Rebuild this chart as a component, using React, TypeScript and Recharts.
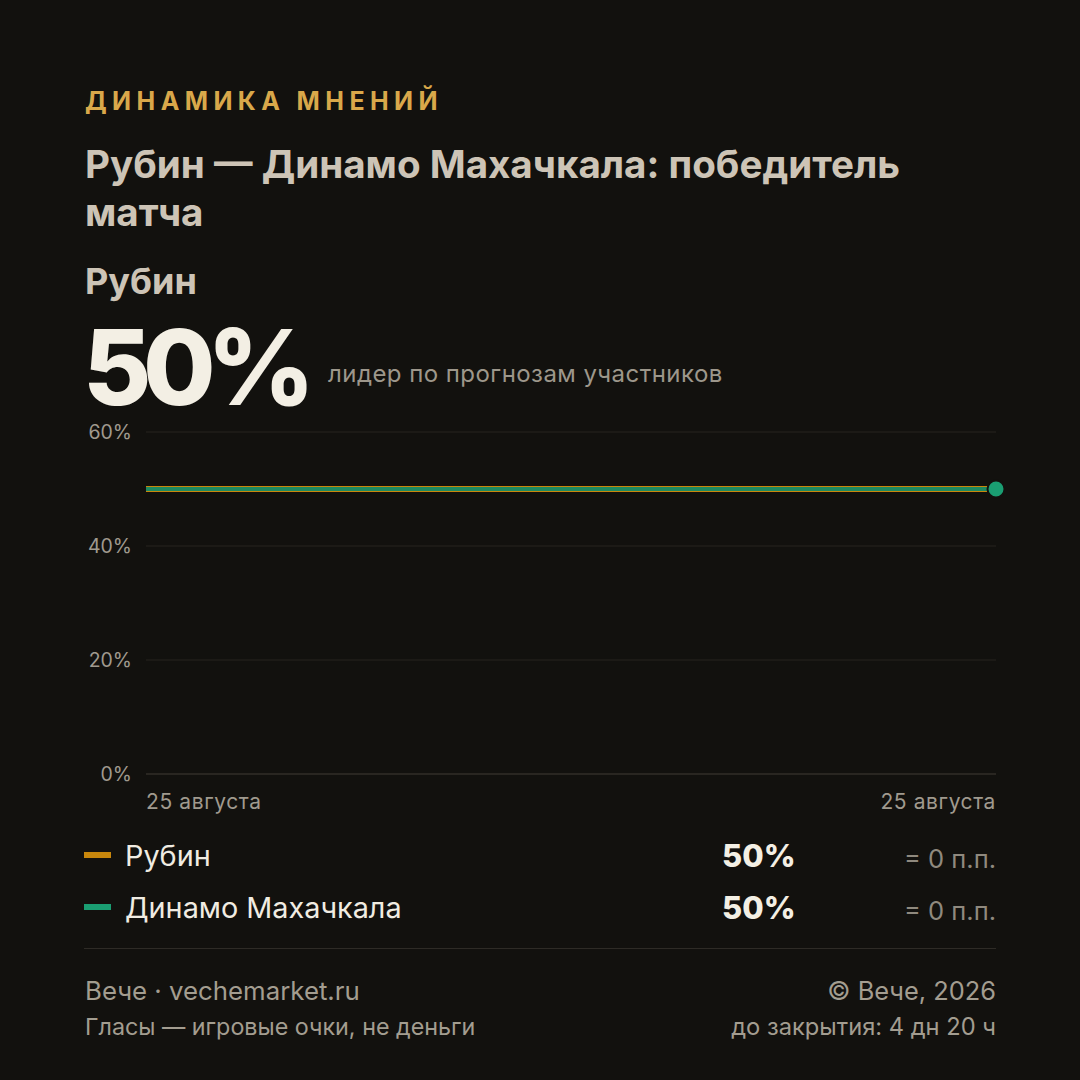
import React from "react";
import { CartesianGrid, Line, LineChart, XAxis, YAxis } from "recharts";

const dates = ["25 августа", "25 августа"];
const rubin = [50, 50];
const dinamo = [50, 50];
const yTicks = [0, 20, 40, 60];

const teams = [
  { name: "Рубин", color: "#c8870c", value: "50%", delta: "= 0 п.п." },
  { name: "Динамо Махачкала", color: "#1a9e72", value: "50%", delta: "= 0 п.п." },
];

const data = dates.map((d, i) => ({ idx: i, date: d, rubin: rubin[i], dinamo: dinamo[i] }));

const BG = "#12110e";
const FONT = "Inter, 'Noto Sans', sans-serif";

function XTick(props: any) {
  const { x, y, payload, index } = props;
  const last = index === dates.length - 1;
  return (
    <text
      x={x}
      y={y}
      dy={27}
      textAnchor={last ? "end" : "start"}
      fill="#a09a8e"
      fontSize={21}
      letterSpacing={0.6}
      fontFamily={FONT}
    >
      {dates[payload.value]}
    </text>
  );
}

function EndDot(props: any) {
  const { cx, cy, index } = props;
  if (index !== dates.length - 1) return <g key={index} />;
  return <circle key={index} cx={cx} cy={cy} r={8.5} fill="#1a9e72" stroke={BG} strokeWidth={2} />;
}

export default function App() {
  return (
    <div
      style={{
        position: "absolute",
        left: 0,
        top: 0,
        width: 1080,
        height: 1080,
        background: BG,
        fontFamily: FONT,
        overflow: "hidden",
      }}
    >
      <div
        style={{
          position: "absolute",
          left: 85,
          top: 86,
          fontSize: 25,
          fontWeight: 700,
          letterSpacing: 5.4,
          color: "#d9a84a",
        }}
      >
        ДИНАМИКА МНЕНИЙ
      </div>
      <div
        style={{
          position: "absolute",
          left: 85,
          top: 140,
          width: 940,
          fontSize: 38.6,
          fontWeight: 700,
          lineHeight: "48px",
          color: "#cdc4b6",
        }}
      >
        Рубин — Динамо Махачкала: победитель
        <br />
        матча
      </div>
      <div
        style={{ position: "absolute", left: 85, top: 259, fontSize: 36, fontWeight: 700, color: "#cdc4b6" }}
      >
        Рубин
      </div>
      <div
        style={{
          position: "absolute",
          left: 83,
          top: 322,
          fontSize: 105,
          fontWeight: 800,
          letterSpacing: -8.5,
          color: "#f3efe4",
          lineHeight: "90px",
        }}
      >
        50%
      </div>
      <div style={{ position: "absolute", left: 328, top: 359, fontSize: 24, letterSpacing: 0.45, color: "#9d978b" }}>
        лидер по прогнозам участников
      </div>

      <div style={{ position: "absolute", left: 84, top: 410 }}>
        <LineChart width={920} height={404} data={data} margin={{ top: 22, right: 8, left: 0, bottom: 0 }}>
          <CartesianGrid vertical={false} stroke="#27251f" />
          <XAxis
            dataKey="idx"
            tick={<XTick />}
            tickLine={false}
            axisLine={{ stroke: "#36332c" }}
            height={40}
            interval={0}
          />
          <YAxis
            domain={[0, 60]}
            ticks={yTicks}
            width={62}
            tickFormatter={(v: number) => `${v}%`}
            tickLine={false}
            axisLine={false}
            tickSize={0}
            tickMargin={14}
            tick={{ fill: "#a09a8e", fontSize: 19.5, fontFamily: FONT }}
          />
          <Line dataKey="rubin" stroke="#c8870c" strokeWidth={6} dot={false} isAnimationActive={false} />
          <Line dataKey="dinamo" stroke="#1d8a60" strokeWidth={4} dot={<EndDot />} activeDot={false} isAnimationActive={false} />
        </LineChart>
      </div>

      {teams.map((t, i) => (
        <div key={t.name} style={{ position: "absolute", left: 84, top: 837 + i * 52, width: 912, height: 40 }}>
          <div style={{ position: "absolute", left: 0, top: 15, width: 27, height: 6, background: t.color }} />
          <div style={{ position: "absolute", left: 41, top: 1, fontSize: 28.8, color: "#f0ece2" }}>{t.name}</div>
          <div
            style={{ position: "absolute", left: 638, top: 0, fontSize: 31, fontWeight: 800, color: "#f3efe4" }}
          >
            {t.value}
          </div>
          <div style={{ position: "absolute", right: 0, top: 6, fontSize: 25.5, color: "#8f897e" }}>{t.delta}</div>
        </div>
      ))}

      <div style={{ position: "absolute", left: 84, top: 948, width: 912, height: 1, background: "#2e2b26" }} />

      <div style={{ position: "absolute", left: 85, top: 975, fontSize: 25.8, color: "#a39d90" }}>
        Вече · vechemarket.ru
      </div>
      <div style={{ position: "absolute", left: 85, top: 1012, fontSize: 23.3, color: "#a39d90" }}>
        Гласы — игровые очки, не деньги
      </div>
      <div style={{ position: "absolute", right: 84, top: 975, fontSize: 25.4, color: "#a39d90", textAlign: "right" }}>
        © Вече, 2026
      </div>
      <div style={{ position: "absolute", right: 84, top: 1012, fontSize: 23.7, color: "#a39d90", textAlign: "right" }}>
        до закрытия: 4 дн 20 ч
      </div>
    </div>
  );
}
